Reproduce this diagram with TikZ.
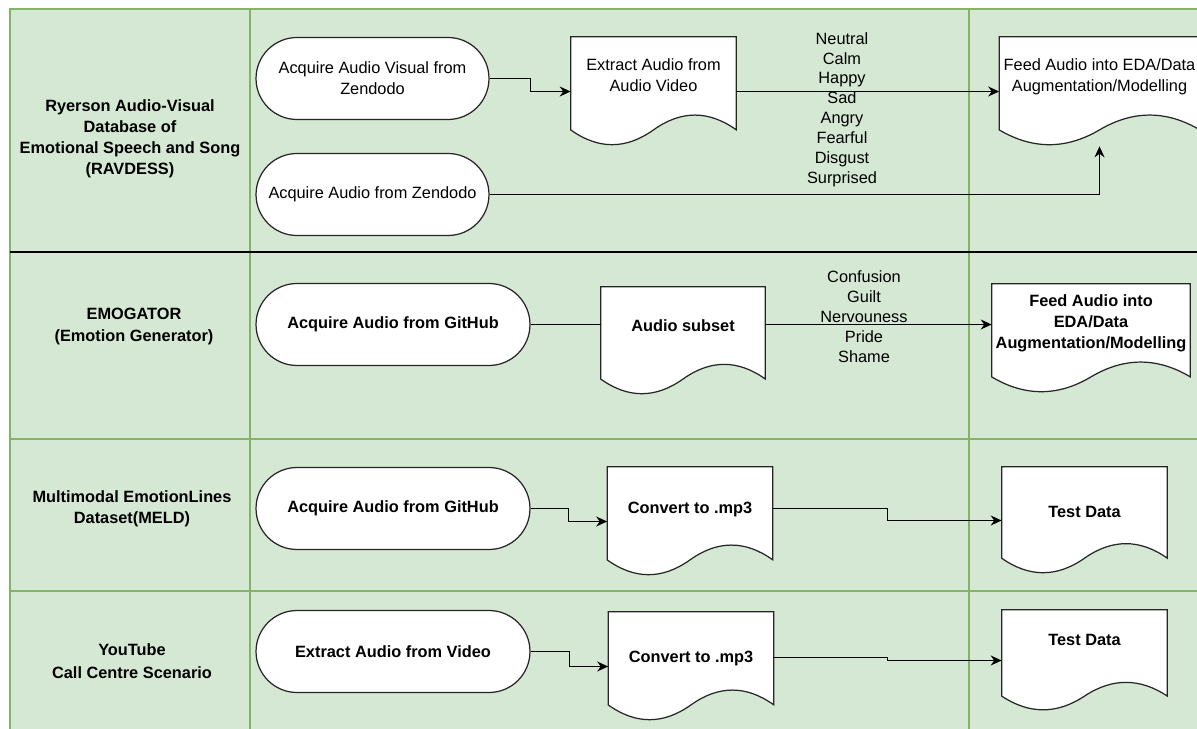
\documentclass[tikz,border=0pt]{standalone}
\usepackage{fontspec}
\setmainfont{Liberation Sans}
\usetikzlibrary{positioning,arrows.meta,calc}
\definecolor{laneFill}{HTML}{D5E8D4}
\definecolor{laneLine}{HTML}{82B366}
\newcommand{\diagfont}{\fontsize{9.3}{12}\selectfont}
\pgfdeclarelayer{lanes}
\pgfdeclarelayer{docs}
\pgfsetlayers{lanes,docs,main}
\tikzset{
  startbox/.style={rectangle, rounded corners=0.82cm, draw=black!85, fill=white, line width=0.7pt, align=center, minimum height=1.64cm, minimum width=5.48cm, inner sep=2pt, font=\diagfont\bfseries},
  docbox/.style={rectangle, align=center, minimum width=3.3cm, minimum height=2.18cm, text depth=0.66cm, inner sep=2pt, font=\diagfont\bfseries},
  docline/.style={draw=black!85, fill=white, line width=0.7pt},
  lanelabel/.style={align=center, font=\diagfont\bfseries},
  tags/.style={align=center, font=\fontsize{9.3}{11.3}\selectfont},
  flowarr/.style={-{Stealth[length=2.2mm,width=2mm]}, line width=0.7pt},
  flowline/.style={line width=0.7pt},
  laneline/.style={draw=laneLine, line width=0.6pt}
}
\begin{document}
\begin{tikzpicture}[x=0.02cm, y=-0.02cm]
  \useasboundingbox (0,0) rectangle (1197,729);
  % swimlanes
  \begin{pgfonlayer}{lanes}
    \fill[laneFill] (10,9) rectangle (1197,729);
    \draw[laneline] (1197,9) -- (10,9) -- (10,729);
    \draw[laneline] (250,9) -- (250,729);
    \draw[laneline] (969,9) -- (969,729);
    \draw[laneline] (10,439) -- (1197,439);
    \draw[laneline] (10,591) -- (1197,591);
    \draw[line width=0.9pt] (10,252) -- (1197,252);
  \end{pgfonlayer}

  % lane titles
  \node[lanelabel] (ravdess) at (130,138.5) {Ryerson Audio-Visual\\Database of\\Emotional Speech and Song\\(RAVDESS)};
  \node[lanelabel] (emogator) at (134,326.5) {EMOGATOR\\(Emotion Generator)};
  \node[lanelabel] (meld) at (132,508.5) {Multimodal EmotionLines\\Dataset(MELD)};
  \node[lanelabel] (youtube) at (132,661.5) {YouTube\\[1pt]Call Centre Scenario};

  % RAVDESS
  \node[startbox, minimum width=4.66cm, font=\diagfont] (acqAV) at (372.5,78.5) {Acquire Audio Visual from\\Zendodo};
  \node[startbox, minimum width=4.66cm, font=\diagfont] (acqZen) at (372.5,194.5) {Acquire Audio from Zendodo};
  \node[docbox, font=\diagfont] (extract) at (653.5,91.5) {Extract Audio from\\Audio Video};
  \node[docbox, minimum width=4cm, font=\diagfont] (feedA) at (1099.5,91.5) {Feed Audio into EDA/Data\\Augmentation/Modelling};
  \node[tags] (basicTags) at (842,109.5) {Neutral\\Calm\\Happy\\Sad\\Angry\\Fearful\\Disgust\\Surprised};
  \draw[flowarr] (acqAV.east) -| ($(acqAV.east)!.5!(extract.west)$) |- (extract.west);
  \draw[flowarr] (extract.east) -- (feedA.west);
  \draw[flowarr] (acqZen.east) -| (feedA.south);

  % EMOGATOR
  \node[startbox] (acqGit) at (393,324.5) {Acquire Audio from GitHub};
  \node[docbox, minimum width=3.28cm, minimum height=2.16cm, text depth=0.62cm] (subset) at (683,341) {Audio subset};
  \node[docbox, minimum width=3.96cm, text depth=0.68cm] (feedB) at (1091,338.5) {Feed Audio into\\EDA/Data\\Augmentation/Modelling};
  \node[tags] (extraTags) at (864,316.5) {Confusion\\Guilt\\Nervouness\\Pride\\Shame};
  \draw[flowline] (acqGit.east) -- (acqGit.east -| subset.west);
  \draw[flowarr] (acqGit.east -| subset.east) -- (acqGit.east -| feedB.west);

  % MELD
  \node[startbox] (acqMeld) at (393,508.5) {Acquire Audio from GitHub};
  \node[docbox, text depth=0.56cm] (convA) at (690,521.5) {Convert to .mp3};
  \node[docbox, minimum height=2.14cm, text depth=0.36cm] (testA) at (1084.5,520.5) {Test Data};
  \draw[flowarr] (acqMeld.east) -| ($(acqMeld.east)!.5!(convA.west)$) |- (convA.west);
  \draw[flowarr] ([yshift=0.26cm]convA.east) -| ($([yshift=0.26cm]convA.east)!.5!(testA.west)$) |- (testA.west);

  % YouTube
  \node[startbox] (extVid) at (393,651.5) {Extract Audio from Video};
  \node[docbox, text depth=0.4cm] (convB) at (691,666.5) {Convert to .mp3};
  \node[docbox, minimum height=2.02cm, text depth=0.84cm] (testB) at (1084.5,660.5) {Test Data};
  \draw[flowarr] (extVid.east) -| ($(extVid.east)!.5!(convB.west)$) |- (convB.west);
  \draw[flowarr] ([yshift=0.18cm]convB.east) -| ($([yshift=0.18cm]convB.east)!.5!(testB.west)$) |- (testB.west);

  % document outlines with wavy bottom
  \begin{pgfonlayer}{docs}
    \foreach \d in {extract,feedA,subset,feedB,convA,testA,convB,testB}
      \draw[docline] let \p1=(\d.south west), \p2=(\d.north east) in
        (\x1,\y2) -- (\x2,\y2) -- (\x2,{\y1+0.15*(\y2-\y1)})
        .. controls ({\x1+0.8333*(\x2-\x1)},{\y1+0.33*(\y2-\y1)}) and ({\x1+0.6667*(\x2-\x1)},{\y1+0.33*(\y2-\y1)})
        .. ({\x1+0.5*(\x2-\x1)},{\y1+0.15*(\y2-\y1)})
        .. controls ({\x1+0.3333*(\x2-\x1)},{\y1-0.03*(\y2-\y1)}) and ({\x1+0.1667*(\x2-\x1)},{\y1-0.03*(\y2-\y1)})
        .. (\x1,{\y1+0.15*(\y2-\y1)}) -- cycle;
  \end{pgfonlayer}
\end{tikzpicture}
\end{document}
